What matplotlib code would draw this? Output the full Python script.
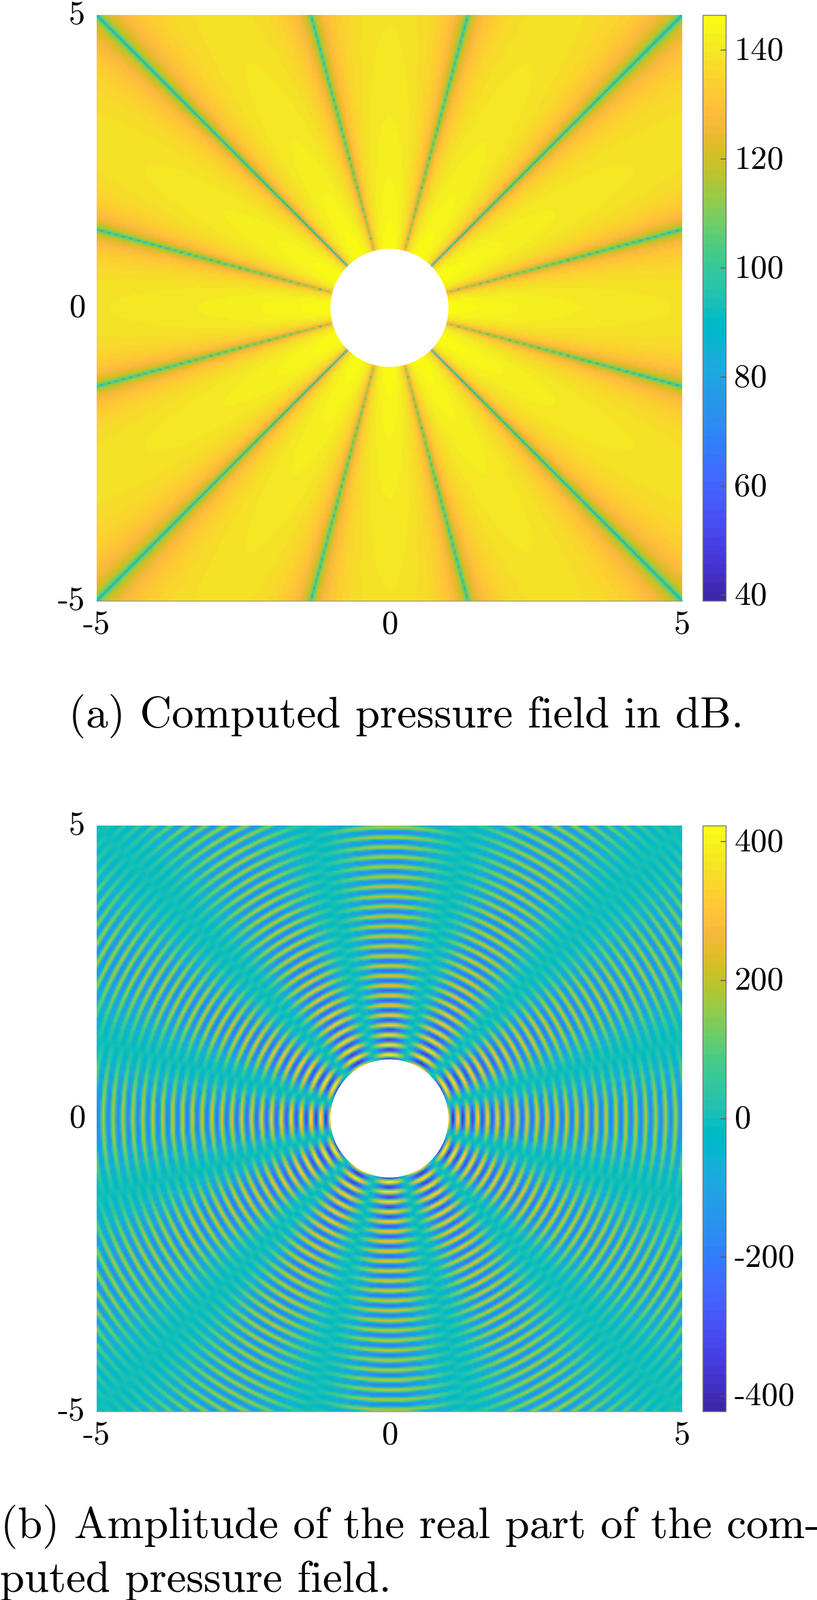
import numpy as np
import matplotlib
matplotlib.use('Agg')
import matplotlib.pyplot as plt
import matplotlib.transforms as mtransforms
from matplotlib.colors import ListedColormap
from matplotlib.patches import Circle

# Values. The fields are too dense to read cell by cell,
# so they are rebuilt from these readings (12 node lines, 1/sqrt(r) decay).
node_angles_deg = [15, 45, 75, 105, 135, 165, 195, 225, 255, 285, 315, 345]
peak_amplitude = 423.0
ring_wavelength = 0.1695
first_peak_radius = 1.09
node_floor_db = 88.0
p_ref = 2e-5

db_limits = [38.9, 146.4]
amp_limits = [-423.0, 423.0]
db_ticks = [40, 60, 80, 100, 120, 140]
amp_ticks = [-400, -200, 0, 200, 400]
db_tick_labels = ['40', '60', '80', '100', '120', '140']
amp_tick_labels = ['-400', '-200', '0', '200', '400']
axis_ticks = [-5, 0, 5]
axis_tick_labels = ['-5', '0', '5']
caption_a = '(a) Computed pressure field in dB.'
caption_b = ['(b) Amplitude of the real part of the com-', 'puted pressure field.']

# MATLAB parula, 64 levels
parula = ListedColormap([
    [0.2422, 0.1504, 0.6603], [0.2504, 0.1650, 0.7076], [0.2578, 0.1818, 0.7511], [0.2647, 0.1978, 0.7952],
    [0.2706, 0.2147, 0.8364], [0.2751, 0.2342, 0.8710], [0.2783, 0.2559, 0.8991], [0.2803, 0.2782, 0.9221],
    [0.2813, 0.3006, 0.9414], [0.2810, 0.3228, 0.9579], [0.2795, 0.3447, 0.9717], [0.2760, 0.3667, 0.9829],
    [0.2699, 0.3892, 0.9906], [0.2602, 0.4123, 0.9952], [0.2440, 0.4358, 0.9988], [0.2206, 0.4603, 0.9973],
    [0.1963, 0.4847, 0.9892], [0.1834, 0.5074, 0.9798], [0.1786, 0.5289, 0.9682], [0.1764, 0.5499, 0.9520],
    [0.1687, 0.5703, 0.9359], [0.1540, 0.5902, 0.9218], [0.1460, 0.6091, 0.9079], [0.1380, 0.6276, 0.8973],
    [0.1248, 0.6459, 0.8883], [0.1113, 0.6635, 0.8763], [0.0952, 0.6798, 0.8598], [0.0689, 0.6948, 0.8394],
    [0.0297, 0.7082, 0.8163], [0.0036, 0.7203, 0.7917], [0.0067, 0.7312, 0.7660], [0.0433, 0.7411, 0.7394],
    [0.0964, 0.7500, 0.7120], [0.1408, 0.7584, 0.6842], [0.1717, 0.7670, 0.6554], [0.1938, 0.7758, 0.6251],
    [0.2161, 0.7843, 0.5923], [0.2470, 0.7918, 0.5567], [0.2906, 0.7973, 0.5188], [0.3406, 0.8008, 0.4789],
    [0.3909, 0.8029, 0.4354], [0.4456, 0.8024, 0.3909], [0.5044, 0.7993, 0.3480], [0.5616, 0.7942, 0.3045],
    [0.6174, 0.7876, 0.2612], [0.6720, 0.7793, 0.2227], [0.7242, 0.7698, 0.1910], [0.7738, 0.7598, 0.1646],
    [0.8203, 0.7498, 0.1535], [0.8634, 0.7406, 0.1596], [0.9035, 0.7330, 0.1774], [0.9393, 0.7288, 0.2100],
    [0.9728, 0.7298, 0.2394], [0.9956, 0.7434, 0.2371], [0.9970, 0.7659, 0.2199], [0.9952, 0.7893, 0.2028],
    [0.9892, 0.8136, 0.1885], [0.9786, 0.8386, 0.1766], [0.9676, 0.8639, 0.1643], [0.9610, 0.8890, 0.1537],
    [0.9597, 0.9135, 0.1423], [0.9628, 0.9373, 0.1265], [0.9691, 0.9606, 0.1064], [0.9769, 0.9839, 0.0805],
])

W, H = 1200, 2349
FS_TICK = 35
FS_CAP = 46.7
FONT = 'cmr10'


def px_axes(fig, left, top, right, bottom):
    return fig.add_axes([left / W, 1 - bottom / H, (right - left) / W, (bottom - top) / H])


def grid(n):
    g = np.linspace(-5, 5, n)
    x, y = np.meshgrid(g, g)
    r = np.maximum(np.hypot(x, y), 0.3)
    return r, np.arctan2(y, x)


def lobes(theta):
    m = len(node_angles_deg) / 2
    return np.cos(m * theta - np.pi * (m * np.radians(node_angles_deg[0]) / np.pi - 0.5))


def nudge_up(labels, fig, px):
    for lab in labels:
        lab.set_transform(lab.get_transform() + mtransforms.ScaledTranslation(0, px / 100, fig.dpi_scale_trans))


def draw_panel(fig, top, field, limits, ticks, tick_labels):
    bottom = top + 860
    ax = px_axes(fig, 142, top, 1002, bottom)
    im = ax.imshow(field, origin='lower', extent=[-5, 5, -5, 5], cmap=parula,
                   vmin=limits[0], vmax=limits[1], interpolation='bilinear', aspect='auto')
    ax.add_patch(Circle((0, 0), 1.0, color='white', zorder=3))
    ax.set_xlim(-5, 5)
    ax.set_ylim(-5, 5)
    ax.set_xticks(axis_ticks)
    ax.set_yticks(axis_ticks)
    ax.set_xticklabels(axis_tick_labels, fontsize=FS_TICK, family=FONT)
    ax.set_yticklabels(axis_tick_labels, fontsize=FS_TICK, family=FONT)
    ax.tick_params(axis='both', length=0)
    ax.tick_params(axis='x', pad=10)
    ax.tick_params(axis='y', pad=12)
    nudge_up(ax.get_yticklabels(), fig, 4)
    for s in ['top', 'left', 'right']:
        ax.spines[s].set_visible(False)
    ax.spines['bottom'].set_color('#9a9a9a')
    ax.spines['bottom'].set_linewidth(1.0)

    cax = px_axes(fig, 1032, top, 1066, bottom)
    cb = fig.colorbar(im, cax=cax, ticks=ticks)
    cb.ax.set_yticklabels(tick_labels, fontsize=FS_TICK, family=FONT)
    cb.ax.tick_params(axis='y', direction='in', length=6, width=1, color='#555555', pad=9, right=True)
    nudge_up(cb.ax.get_yticklabels(), fig, 3)
    cb.outline.set_edgecolor('#777777')
    cb.outline.set_linewidth(1.0)


def main():
    fig = plt.figure(figsize=(W / 100, H / 100), dpi=100)

    # panel (a): level in dB
    r, theta = grid(300)
    amp = peak_amplitude * np.abs(lobes(theta)) / np.sqrt(r)
    floor = p_ref * 10 ** (node_floor_db / 20)
    field_db = 20 * np.log10(np.hypot(amp, floor) / p_ref)
    draw_panel(fig, 22, field_db, db_limits, db_ticks, db_tick_labels)

    # panel (b): real part
    r, theta = grid(300)
    k = 2 * np.pi / ring_wavelength
    wave = np.cos(k * (r - first_peak_radius))
    field_re = -peak_amplitude * lobes(theta) / np.sqrt(r) * wave
    draw_panel(fig, 1212, field_re, amp_limits, amp_ticks, amp_tick_labels)

    fig.text(101 / W, 1 - 1068 / H, caption_a, fontsize=FS_CAP, family=FONT, va='baseline')
    fig.text(1 / W, 1 - 2258 / H, caption_b[0], fontsize=FS_CAP, family=FONT, va='baseline')
    fig.text(0 / W, 1 - 2337 / H, caption_b[1], fontsize=FS_CAP, family=FONT, va='baseline')

    fig.savefig('out.png', dpi=100)


if __name__ == "__main__":
    main()
